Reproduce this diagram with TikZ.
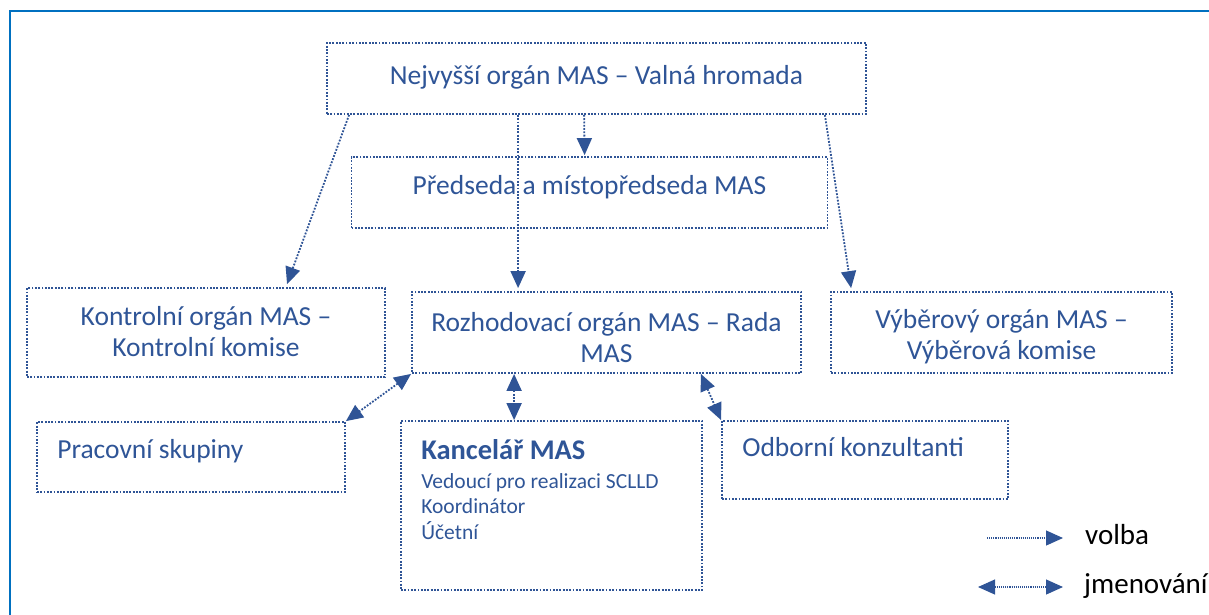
\documentclass[tikz,border=0pt]{standalone}
\usepackage{fontspec}
\setmainfont{Carlito}
\usetikzlibrary{arrows.meta,calc}
\definecolor{mblue}{RGB}{47,84,150}
\definecolor{mtext}{RGB}{47,85,151}
\definecolor{framec}{RGB}{0,112,192}
\newcommand\boxfont{\fontsize{27.5}{31}\selectfont}
\newcommand\listfont{\fontsize{21.5}{25}\selectfont}
\newcommand\legfont{\fontsize{29}{34}\selectfont}
\tikzset{
  dotline/.style={draw=mblue, line width=1.8pt, dash pattern=on 1.8pt off 1.5pt},
  box/.style={dotline, rectangle, inner sep=0pt},
  ctxt/.style={inner sep=0pt, text=mtext, font=\boxfont, align=center},
  txt/.style={inner sep=0pt, text=mtext, font=\boxfont, anchor=base west},
  ltxt/.style={inner sep=0pt, text=mtext, font=\listfont, anchor=base west},
  legtxt/.style={inner sep=0pt, text=black, font=\legfont, anchor=base west},
  tipv/.tip={Triangle[length=17pt,width=15pt]},
  volba/.style={dotline, -tipv},
  jmen/.style={dotline, tipv-tipv},
  legline/.style={draw=mblue, line width=1.1pt, dash pattern=on 1.1pt off 1pt},
  frame/.style={draw=framec, line width=2.2pt}
}
\begin{document}
\begin{tikzpicture}[x=1pt,y=-1pt]
\useasboundingbox (0,0) rectangle (1209,614);
\draw[frame] (10,620) -- (10,11) -- (1215,11);

% boxes
\node[box, minimum width=539pt, minimum height=71pt] (b1) at (596.5,78.5) {};
\node[box, minimum width=476pt, minimum height=71pt] (b2) at (589.5,192.5) {};
\node[box, minimum width=358pt, minimum height=89pt] (b3) at (206,332.5) {};
\node[box, minimum width=389pt, minimum height=81pt] (b4) at (606.5,332.5) {};
\node[box, minimum width=341pt, minimum height=81pt] (b5) at (1001.5,332.5) {};
\node[box, minimum width=308pt, minimum height=70pt] (b6) at (191,457) {};
\node[box, minimum width=301pt, minimum height=169pt] (b7) at (551.5,505.5) {};
\node[box, minimum width=286pt, minimum height=78pt] (b8) at (865,460) {};

% centred texts
\node[ctxt] (t1) at ([yshift=1pt]b1.center) {Nejvyšší orgán MAS – Valná hromada};
\node[ctxt] (t2) at ([yshift=5pt]b2.center) {Předseda a místopředseda MAS};
\node[ctxt] (t3) at ([yshift=1pt]b3.center) {Kontrolní orgán MAS –\\Kontrolní komise};
\node[ctxt] (t4) at ([yshift=-5pt]b4.center) {Rozhodovací orgán MAS – Rada\\MAS};
\node[ctxt] (t5) at ([yshift=-4pt]b5.center) {Výběrový orgán MAS –\\Výběrová komise};

% left-aligned texts
\node[txt] (t6) at ([xshift=21pt,yshift=-37pt]b6.north west) {Pracovní skupiny};
\node[txt] (t8) at ([xshift=21pt,yshift=-36pt]b8.north west) {Odborní konzultanti};
\node[txt, font=\fontsize{28.5}{33}\selectfont\bfseries] (k1) at ([xshift=21pt,yshift=-39pt]b7.north west) {Kancelář MAS};
\node[ltxt] (k2) at ([xshift=21pt,yshift=-68pt]b7.north west) {Vedoucí pro realizaci SCLLD};
\node[ltxt] (k3) at ([xshift=21pt,yshift=-93pt]b7.north west) {Koordinátor};
\node[ltxt] (k4) at ([xshift=21pt,yshift=-119pt]b7.north west) {Účetní};

% volba arrows
\draw[volba] ([xshift=23pt]b1.south west) -- ([xshift=81pt,yshift=3pt]b3.north);
\draw[volba] ([xshift=192pt]b1.south west) -- ([xshift=107pt,yshift=3pt]b4.north west);
\draw[volba] ([xshift=258pt]b1.south west) -- ([xshift=234pt,yshift=1pt]b2.north west);
\draw[volba] ([xshift=-42pt]b1.south east) -- ([xshift=21pt,yshift=3pt]b5.north west);

% jmenovani arrows
\draw[jmen] (b4.south west) -- (b6.north east);
\draw[jmen] ([xshift=103pt]b4.south west) -- ([xshift=114pt]b7.north west);
\draw[jmen] ([xshift=-101pt]b4.south east) -- (b8.north west);

% legend
\coordinate (lv1) at (987,538);
\coordinate (lv2) at (1063,538);
\coordinate (lj1) at (978,587);
\coordinate (lj2) at (1063,587);
\draw[legline, -tipv] (lv1) -- (lv2);
\draw[legline, tipv-tipv] (lj1) -- (lj2);
\node[legtxt] (lvt) at (1085,544) {volba};
\node[legtxt] (ljt) at (1084,593) {jmenování};
\end{tikzpicture}
\end{document}
